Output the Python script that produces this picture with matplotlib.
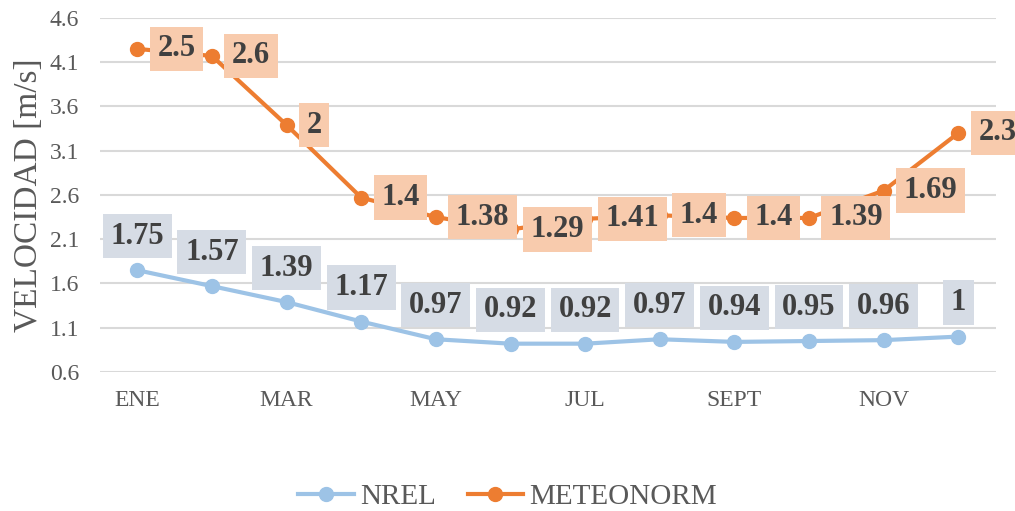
import matplotlib
matplotlib.use("Agg")
import matplotlib.pyplot as plt
import numpy as np

plt.rcParams['font.family'] = ['Liberation Serif', 'DejaVu Serif']

months = ["ENE", "FEB", "MAR", "ABR", "MAY", "JUN", "JUL", "AGO", "SEPT", "OCT", "NOV", "DIC"]
nrel = [1.75, 1.57, 1.39, 1.17, 0.97, 0.92, 0.92, 0.97, 0.94, 0.95, 0.96, 1.0]
meteonorm = [2.5, 2.6, 2.0, 1.4, 1.38, 1.29, 1.41, 1.4, 1.4, 1.39, 1.69, 2.3]

# stacked line chart: second series sits on top of the first
stacked = np.array(nrel) + np.array(meteonorm)

BLUE = "#9DC3E6"
ORANGE = "#ED7D31"
TXT = "#595959"

fig = plt.figure(figsize=(10.15, 5.11), dpi=100)
ax = fig.add_axes([0.0985, 0.272, 0.8825, 0.693])

x = np.arange(len(months))
ax.plot(x, nrel, color=BLUE, lw=3, marker="o", ms=10, label="NREL", zorder=3)
ax.plot(x, stacked, color=ORANGE, lw=3, marker="o", ms=10, label="METEONORM", zorder=3)

for xi, v in zip(x, nrel):
    ax.annotate(f"{v:g}", (xi, v), xytext=(0, 34), textcoords="offset pixels",
                ha="center", va="center", fontsize=22, fontweight="bold", color="#404040",
                bbox=dict(boxstyle="square,pad=0.25", fc="#D6DCE5", ec="none"), zorder=4)

for xi, s, v in zip(x, stacked, meteonorm):
    ax.annotate(f"{v:g}", (xi, s), xytext=(20, 0), textcoords="offset pixels",
                ha="left", va="center", fontsize=22, fontweight="bold", color="#404040",
                bbox=dict(boxstyle="square,pad=0.25", fc="#F8CBAD", ec="none"), zorder=4,
                annotation_clip=False)

ax.set_xlim(-0.5, 11.5)
ax.set_ylim(0.6, 4.6)
ax.set_yticks(np.arange(0.6, 4.61, 0.5))
ax.set_yticklabels([f"{t:.1f}" for t in np.arange(0.6, 4.61, 0.5)])
ax.set_xticks(x[::2])
ax.set_xticklabels(months[::2])
ax.tick_params(length=0, labelsize=17, colors=TXT)
ax.tick_params(axis="x", pad=13)
ax.tick_params(axis="y", pad=15)
ax.grid(axis="y", color="#D9D9D9", lw=1.5)
ax.set_axisbelow(True)
for sp in ax.spines.values():
    sp.set_visible(False)
ax.set_ylabel("VELOCIDAD [m/s]", fontsize=24, color=TXT, labelpad=4)

fig.legend(loc="lower center", bbox_to_anchor=(0.5, -0.05), ncol=2, frameon=False,
           fontsize=21, labelcolor=TXT, handlelength=1.9, columnspacing=1.1, handletextpad=0.2)

fig.savefig("out.png", dpi=100)
